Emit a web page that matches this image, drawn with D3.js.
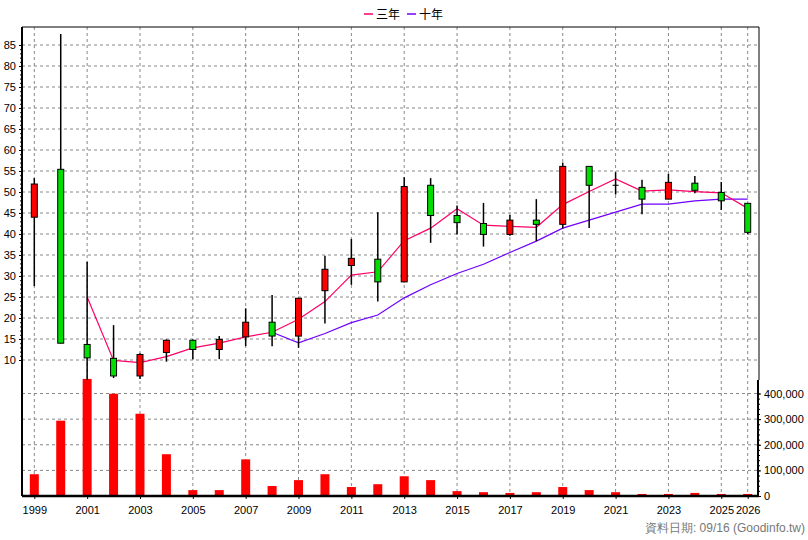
<!DOCTYPE html>
<html><head><meta charset="utf-8">
<script src="https://cdn.jsdelivr.net/npm/d3@7"></script>
<style>body{margin:0;background:#fff}svg{font-family:"Liberation Sans",Arial,sans-serif}</style>
</head><body><svg id="c" width="808" height="540"></svg>
<script>
const years=[1999,2000,2001,2002,2003,2004,2005,2006,2007,2008,2009,2010,2011,2012,2013,2014,2015,2016,2017,2018,2019,2020,2021,2022,2023,2024,2025,2026];
const open =[44.0,55.4,13.7,10.4,6.2,11.8,14.7,12.5,15.5,19.0,15.7,26.5,32.5,34.0,28.6,51.6,44.4,42.5,39.9,43.3,42.3,56.1,51.6,51.1,48.3,52.1,49.9,47.3];
const close=[51.9,14.0,10.5,6.2,11.3,14.7,12.5,14.9,19.0,15.7,24.7,31.6,34.2,28.6,51.3,44.4,42.7,39.9,43.3,42.3,56.1,51.6,51.6,48.3,52.3,50.4,47.9,40.4];
const high =[53.3,87.6,33.4,18.3,11.6,14.9,14.9,15.7,22.3,25.5,24.8,34.8,38.8,45.2,53.5,53.3,46.8,47.4,44.5,48.3,57.0,56.1,54.7,52.9,54.3,53.8,52.4,47.3];
const low  =[27.6,14.0,5.0,5.7,5.5,9.6,10.2,10.2,13.3,13.3,12.9,18.7,27.9,23.9,28.5,37.9,39.9,37.0,39.6,38.3,41.3,41.4,49.4,44.7,48.3,49.7,45.7,39.9];
const ma3 =[null,null,25.0,9.9,9.4,10.8,12.9,14.0,15.5,16.6,19.7,23.9,30.2,31.0,38.4,41.4,46.0,42.1,41.8,41.6,47.0,50.1,53.1,50.2,50.5,50.1,49.8,46.1];
const ma10=[null,null,null,null,null,null,null,null,null,16.6,14.1,16.3,18.9,20.7,24.8,27.9,30.6,32.8,35.6,38.3,41.4,43.3,45.2,47.1,47.1,47.9,48.3,48.3];
const volume=[85000,294000,457000,399000,321000,163000,23000,23000,143000,39000,62000,85000,35000,46000,77000,62000,19000,15000,12000,15000,35000,23000,15000,8000,8000,12000,8000,8000];
const priceTicks=[10,15,20,25,30,35,40,45,50,55,60,65,70,75,80,85];
const volTicks=[0,100000,200000,300000,400000];
const yearLabels=[1999,2001,2003,2005,2007,2009,2011,2013,2015,2017,2019,2021,2023,2025,2026];

const svg=d3.select("#c");
const L=22,R=759,T=27,PB=380,VB=496;
const x=d3.scaleLinear().domain([1999,2026]).range([34.3,747.7]);
const y=d3.scaleLinear().domain([10,85]).range([360,45]);
const yv=d3.scaleLinear().domain([0,400000]).range([496,393.5]);
const g=svg.append("g");
const dash="3,3";
// grids
yearLabels.forEach(yr=>g.append("line").attr("x1",x(yr)).attr("x2",x(yr)).attr("y1",T).attr("y2",VB).attr("stroke","#888").attr("stroke-dasharray",dash));
priceTicks.forEach(v=>g.append("line").attr("x1",L).attr("x2",R).attr("y1",y(v)).attr("y2",y(v)).attr("stroke","#888").attr("stroke-dasharray",dash));
volTicks.slice(1).forEach(v=>g.append("line").attr("x1",L).attr("x2",R).attr("y1",yv(v)).attr("y2",yv(v)).attr("stroke","#888").attr("stroke-dasharray",dash));
// frame
g.append("line").attr("x1",L).attr("x2",R).attr("y1",T).attr("y2",T).attr("stroke","#000");
g.append("line").attr("x1",R).attr("x2",R).attr("y1",T).attr("y2",PB).attr("stroke","#000");
// volume bars
const vg=svg.append("g");
vg.selectAll("rect").data(years).join("rect").attr("x",d=>x(d)-4.5).attr("width",9)
 .attr("y",(d,i)=>yv(volume[i])).attr("height",(d,i)=>yv(0)-yv(volume[i])).attr("fill","#f00");
// clip for price
svg.append("clipPath").attr("id","cp").append("rect").attr("x",L).attr("y",T).attr("width",R-L).attr("height",PB-T);
const pg=svg.append("g").attr("clip-path","url(#cp)");
// MA lines
const ln=arr=>d3.line().defined(d=>d[1]!=null).x(d=>x(d[0])).y(d=>y(d[1]))(years.map((yr,i)=>[yr,arr[i]]));
pg.append("path").attr("d",ln(ma10)).attr("fill","none").attr("stroke","#7000ff").attr("stroke-width",1.2);
pg.append("path").attr("d",ln(ma3)).attr("fill","none").attr("stroke","#ff0066").attr("stroke-width",1.2);
// candles
years.forEach((yr,i)=>{
  pg.append("line").attr("x1",x(yr)).attr("x2",x(yr)).attr("y1",y(high[i])).attr("y2",y(low[i])).attr("stroke","#000").attr("stroke-width",1.5);
  const top=Math.max(open[i],close[i]),bot=Math.min(open[i],close[i]);
  const h=Math.max(1,y(bot)-y(top));
  if(top-bot<0.2){pg.append("line").attr("x1",x(yr)-3).attr("x2",x(yr)+3).attr("y1",y(top)).attr("y2",y(top)).attr("stroke","#000");}
  else pg.append("rect").attr("x",x(yr)-3).attr("width",6).attr("y",y(top)).attr("height",h)
   .attr("fill",close[i]>=open[i]?"#f00":"#0d0").attr("stroke","#000").attr("stroke-width",1);
});
// axes
const ay=svg.append("g").attr("transform",`translate(${L},0)`).call(d3.axisLeft(y).tickValues(priceTicks).tickSize(3).tickFormat(d3.format("d")));
ay.select(".domain").remove();
svg.append("line").attr("x1",L).attr("x2",L).attr("y1",T).attr("y2",VB).attr("stroke","#000").attr("stroke-width",2);
svg.append("g").attr("transform",`translate(${L},0)`).call(d3.axisLeft(y).ticks(75).tickSize(2).tickFormat("")).select(".domain").remove();
const av=svg.append("g").attr("transform",`translate(${R-1},0)`).call(d3.axisRight(yv).tickValues(volTicks).tickSize(3).tickFormat(d3.format(",")));
av.select(".domain").remove();
svg.append("line").attr("x1",R-1).attr("x2",R-1).attr("y1",PB).attr("y2",VB).attr("stroke","#000").attr("stroke-width",2);
svg.append("g").attr("transform",`translate(${R-1},0)`).call(d3.axisRight(yv).ticks(20).tickSize(2).tickFormat("")).select(".domain").remove();
svg.append("line").attr("x1",L).attr("x2",R).attr("y1",VB).attr("y2",VB).attr("stroke","#000").attr("stroke-width",2.5);
const ax=svg.append("g").attr("transform",`translate(0,${VB})`).call(d3.axisBottom(x).tickValues(yearLabels).tickSize(3).tickFormat(d3.format("d")));
ax.select(".domain").remove();
svg.selectAll(".tick text").attr("font-size",11).attr("fill","#000").attr("font-family","Liberation Sans, Arial");
ax.selectAll(".tick text").attr("dy","1.1em");
// legend
const lg=svg.append("g").attr("font-size",12);
[["三年","#ff0066",364],["十年","#7000ff",407]].forEach(([t,c,lx])=>{
  lg.append("line").attr("x1",lx).attr("x2",lx+9).attr("y1",14).attr("y2",14).attr("stroke",c).attr("stroke-width",1.5);
  lg.append("text").attr("x",lx+12).attr("y",18.5).text(t).attr("font-family","Noto Sans CJK TC");
});
svg.append("text").attr("x",805).attr("y",532).attr("text-anchor","end").attr("font-size",12).attr("fill","#777").text("資料日期: 09/16  (Goodinfo.tw)");
</script></body></html>
